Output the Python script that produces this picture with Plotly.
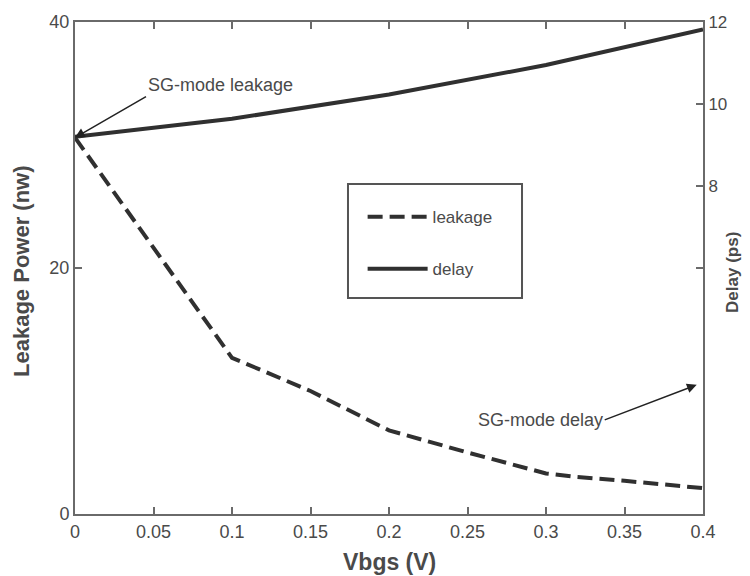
import plotly.graph_objects as go

# ---- data ----
vbgs_leak = [0, 0.1, 0.15, 0.2, 0.25, 0.3, 0.32, 0.35, 0.4]
leakage = [30.6, 12.7, 10.0, 6.8, 5.0, 3.3, 3.0, 2.7, 2.1]

vbgs_delay = [0, 0.1, 0.2, 0.3, 0.4]
delay = [9.2, 9.64, 10.23, 10.95, 11.82]

x_ticks = [0, 0.05, 0.1, 0.15, 0.2, 0.25, 0.3, 0.35, 0.4]
x_ticklabels = ["0", "0.05", "0.1", "0.15", "0.2", "0.25", "0.3", "0.35", "0.4"]
left_ticks = [0, 20, 40]
right_ticks = [8, 10, 12]

FONT = "Liberation Sans, Arial, sans-serif"
AX = "#6a6a6a"
TXT = "#4a4a4a"
LINE = "#303030"

fig = go.Figure()
fig.add_trace(go.Scatter(x=vbgs_leak, y=leakage, name="leakage", mode="lines",
                         line=dict(color=LINE, width=4, dash="15px,7px"),
                         legendgroup="a"))
fig.add_trace(go.Scatter(x=vbgs_delay, y=delay, name="delay", mode="lines",
                         line=dict(color=LINE, width=4), yaxis="y2",
                         legendgroup="b"))

axis_common = dict(showgrid=False, zeroline=False, showline=True, linecolor=AX,
                   linewidth=2, ticks="inside", tickcolor=AX, ticklen=7, tickwidth=2,
                   automargin=False,
                   tickfont=dict(family=FONT, size=18, color=TXT))

fig.update_layout(
    width=742, height=568,
    margin=dict(l=67, r=47, t=14, b=62, autoexpand=False),
    plot_bgcolor="white", paper_bgcolor="white",
    xaxis=dict(range=[0, 0.4], tickvals=x_ticks, ticktext=x_ticklabels,
               mirror="ticks", **axis_common),
    yaxis=dict(range=[0, 40], tickvals=left_ticks, mirror="ticks", **axis_common),
    yaxis2=dict(range=[0, 12], tickvals=right_ticks, overlaying="y", side="right",
                **{**axis_common, "tickfont": dict(family=FONT, size=17, color=TXT)}),
    showlegend=True,
    legend=dict(x=0.458, y=0.64, xanchor="left", yanchor="top",
                bgcolor="rgba(0,0,0,0)", borderwidth=0, tracegroupgap=27,
                itemwidth=60, font=dict(family=FONT, size=17, color=TXT)),
    shapes=[dict(type="rect", xref="paper", yref="paper",
                 x0=0.4347, x1=0.7118, y0=0.439, y1=0.6707,
                 line=dict(color="#555555", width=2), fillcolor="rgba(0,0,0,0)")],
    annotations=[
        dict(text="<b>Leakage Power (nw)</b>", xref="paper", yref="paper",
             x=0, y=0.494, xshift=-53, xanchor="center", yanchor="middle",
             textangle=-90, showarrow=False,
             font=dict(family=FONT, size=22, color=TXT)),
        dict(text="<b>Delay (ps)</b>", xref="paper", yref="paper",
             x=1, y=0.49, xshift=30, xanchor="center", yanchor="middle",
             textangle=-90, showarrow=False,
             font=dict(family=FONT, size=17, color=TXT)),
        dict(text="<b>Vbgs (V)</b>", xref="paper", yref="paper",
             x=0.5, y=0, yshift=-48, xanchor="center", yanchor="middle",
             showarrow=False,
             font=dict(family=FONT, size=23, color=TXT)),
        dict(text="SG-mode leakage", x=0, y=30.6, xref="x", yref="y",
             ax=71, ay=-41, xanchor="left", yanchor="bottom",
             showarrow=True, arrowhead=2, arrowsize=1.3, arrowwidth=1.5,
             arrowcolor="#222", font=dict(family=FONT, size=18, color=TXT)),
        dict(text="SG-mode delay", x=0.396, y=10.5, xref="x", yref="y",
             ax=-92, ay=35, xanchor="right", yanchor="middle",
             showarrow=True, arrowhead=2, arrowsize=1.3, arrowwidth=1.5,
             arrowcolor="#222", font=dict(family=FONT, size=18, color=TXT)),
    ],
)

fig.write_html("out.html")
